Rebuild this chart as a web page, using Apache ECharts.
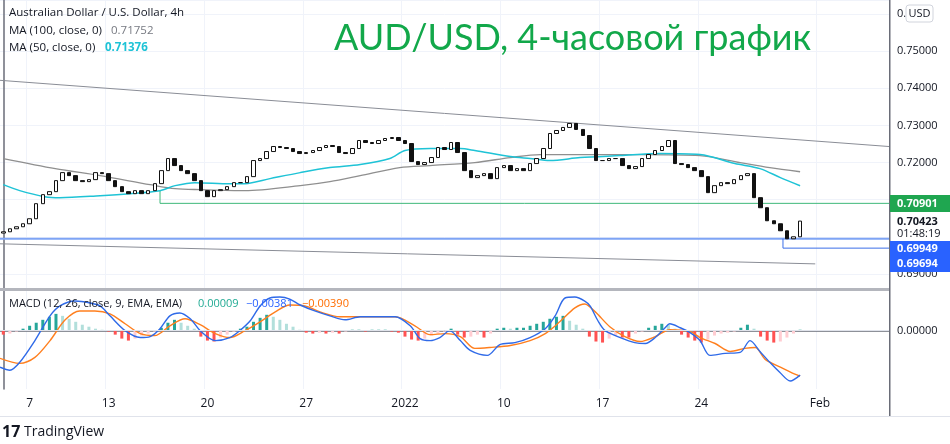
<!DOCTYPE html>
<html>
<head>
<meta charset="utf-8">
<script src="https://cdn.jsdelivr.net/npm/echarts@6/dist/echarts.min.js"></script>
<style>
  html, body { margin: 0; padding: 0; background: #fff; }
  #chart { width: 950px; height: 444px; }
</style>
</head>
<body>
<div id="chart"></div>
<script>
// 8h candles (closes), first open below
const firstOpen = 0.7010
const closes = [
  0.70135, 0.70216, 0.70270, 0.70351, 0.70486, 0.70892, 0.71135, 0.71216, 0.71513, 0.71729,
  0.71648, 0.71513, 0.71486, 0.71540, 0.71729, 0.71702, 0.71513, 0.71351, 0.71216, 0.71162,
  0.71243, 0.71162, 0.71243, 0.71432, 0.71783, 0.72108, 0.71919, 0.71783, 0.71702, 0.71513,
  0.71243, 0.71081, 0.71243, 0.71270, 0.71351, 0.71459, 0.71459, 0.71621, 0.72054, 0.72108,
  0.72297, 0.72432, 0.72405, 0.72378, 0.72297, 0.72243, 0.72270, 0.72324, 0.72405, 0.72459,
  0.72432, 0.72270, 0.72243, 0.72378, 0.72594, 0.72540, 0.72513, 0.72594, 0.72648, 0.72675,
  0.72594, 0.72513, 0.72027, 0.71946, 0.72000, 0.72135, 0.72405, 0.72351, 0.72540, 0.72270,
  0.71783, 0.71594, 0.71648, 0.71702, 0.71567, 0.71864, 0.71919, 0.71783, 0.71837, 0.71783,
  0.71973, 0.72108, 0.72378, 0.72783, 0.72864, 0.72946, 0.73054, 0.72892, 0.72729, 0.72378,
  0.72054, 0.72054, 0.72108, 0.72108, 0.71919, 0.71837, 0.71892, 0.72108, 0.72216, 0.72324,
  0.72432, 0.72594, 0.71973, 0.71946, 0.71864, 0.71783, 0.71621, 0.71189, 0.71378, 0.71459,
  0.71432, 0.71540, 0.71648, 0.71702, 0.71054, 0.70783, 0.70432, 0.70351, 0.70162, 0.69946,
  0.70000, 0.70423
]
const categoryCount = 135

// [bar index, value]
const ma50 = [
  [0, 0.71405], [2.5, 0.71243], [6.3, 0.71081], [8.6, 0.71054], [14.7, 0.71108], [19.2, 0.71162],
  [23.8, 0.71243], [26.1, 0.71378], [29.1, 0.71459], [34.4, 0.71432], [36.7, 0.71432], [40.5, 0.71567],
  [45.1, 0.71729], [49.6, 0.71864], [54.2, 0.71946], [58.7, 0.72108], [61.0, 0.72324], [64.8, 0.72378],
  [69.4, 0.72378], [71.6, 0.72324], [77.0, 0.72162], [80.0, 0.72108], [83.0, 0.72054], [87.6, 0.72135],
  [93.7, 0.72189], [99.7, 0.72243], [105.8, 0.72216], [111.1, 0.71973], [114.9, 0.71837], [118.0, 0.71594],
  [121, 0.71376]
]
const ma100 = [
  [0, 0.72108], [7.9, 0.71837], [14.7, 0.71648], [22.3, 0.71405], [26.1, 0.71297], [29.9, 0.71270],
  [36.7, 0.71243], [45.1, 0.71378], [49.6, 0.71486], [54.2, 0.71648], [60.2, 0.71864], [64.8, 0.71919],
  [71.6, 0.72000], [77.0, 0.72135], [81.5, 0.72216], [90.6, 0.72216], [96.7, 0.72216], [105.8, 0.72189],
  [111.9, 0.72000], [116.4, 0.71864], [121, 0.71752]
]
const trendUpper = [[-0.5, 0.74216], [134.5, 0.72432]]
const trendLower = [[-0.5, 0.69811], [123.3, 0.69270]]
const greenLevel = [[23.8, 0.71243], [23.8, 0.70901], [134.5, 0.70901]]
const blueLevel1 = [[-0.5, 0.69949], [134.5, 0.69949]]
const blueLevel2 = [[118.4, 0.69949], [118.4, 0.69694], [134.5, 0.69694]]

// MACD pane (x in bar index)
const macdLine = [
  [-0.5, -0.00313], [1.0, -0.00339], [2.5, -0.00271], [4.8, -0.00085], [7.1, 0.00127], [8.6, 0.00212],
  [10.9, 0.00254], [13.2, 0.00237], [14.7, 0.00212], [16.2, 0.00127], [18.5, 0], [20.8, -0.00059],
  [22.3, -0.00051], [23.8, 0.00017], [25.3, 0.00127], [26.8, 0.00152], [28.4, 0.00102], [29.9, 0],
  [32.2, -0.00085], [34.4, -0.00059], [35.9, 0], [37.5, 0.00085], [39.0, 0.00212], [40.5, 0.00280],
  [42.0, 0.00288], [43.5, 0.00271], [45.1, 0.00220], [47.3, 0.00169], [49.6, 0.00127], [51.9, 0.00093],
  [54.2, 0.00119], [57.2, 0.00119], [59.5, 0.00119], [61.8, 0.00042], [63.3, -0.00068], [64.8, -0.00085],
  [66.3, -0.00059], [67.8, 0], [69.4, -0.00085], [70.9, -0.00169], [73.5, -0.00212], [75.4, -0.00119],
  [77.7, -0.00102], [80.0, -0.00059], [82.3, 0.00017], [83.8, 0.00127], [85.3, 0.00280], [86.8, 0.00288],
  [88.3, 0.00254], [89.1, 0.00212], [90.3, 0.00085], [91.4, 0], [93.7, -0.00059], [95.9, -0.00102],
  [97.5, -0.00110], [99.0, -0.00059], [100.5, 0.00025], [101.2, 0.00059], [102.8, 0.00025], [104.3, -0.00017],
  [105.8, -0.00085], [107.3, -0.00212], [109.6, -0.00195], [111.9, -0.00186], [113.4, -0.00085], [114.9, -0.00178],
  [116.4, -0.00271], [117.9, -0.00356], [119.5, -0.00432], [121, -0.00381]
]
const signalLine = [
  [-0.5, -0.00237], [2.5, -0.00280], [4.8, -0.00229], [7.1, -0.00085], [9.4, 0.00093], [11.6, 0.00169],
  [13.9, 0.00169], [16.2, 0.00144], [18.5, 0.00059], [20.8, -0.00025], [23.0, -0.00042], [25.3, 0.00042],
  [27.6, 0.00102], [29.9, 0.00051], [32.2, -0.00025], [34.4, -0.00059], [36.7, 0], [39.0, 0.00076],
  [41.3, 0.00161], [43.5, 0.00220], [45.8, 0.00212], [48.1, 0.00161], [51.1, 0.00119], [54.2, 0.00119],
  [59.5, 0.00119], [62.5, 0.00042], [64.8, -0.00034], [67.1, -0.00025], [69.4, -0.00051], [71.6, -0.00152],
  [73.9, -0.00144], [77.0, -0.00127], [80.0, -0.00085], [82.3, -0.00025], [84.5, 0.00076], [86.8, 0.00195],
  [88.3, 0.00229], [89.9, 0.00161], [92.1, 0.00034], [94.4, -0.00051], [96.7, -0.00093], [99.0, -0.00051],
  [101.2, 0.00008], [104.3, -0.00008], [105.8, -0.00059], [108.1, -0.00110], [110.4, -0.00178], [112.6, -0.00152],
  [114.2, -0.00144], [115.7, -0.00246], [118.0, -0.00313], [120.2, -0.00373], [121, -0.00390]
]
const histogram = [
  -0.00034, -0.00025, -0.00008, 0.00017, 0.00042, 0.00068, 0.00093, 0.00119, 0.00144, 0.00127,
  0.00102, 0.00076, 0.00051, 0.00034, 0.00017, 0.00008, -0.00008, -0.00034, -0.00068, -0.00085,
  -0.00068, -0.00042, -0.00025, -0.00008, 0.00025, 0.00068, 0.00093, 0.00068, 0.00042, 0.00017,
  -0.00051, -0.00085, -0.00093, -0.00059, -0.00034, -0.00008, 0.00017, 0.00034, 0.00076, 0.00110,
  0.00136, 0.00119, 0.00093, 0.00059, 0.00034, 0.00008, -0.00017, -0.00025, -0.00017, -0.00025,
  -0.00017, -0.00025, -0.00008, 0.00008, 0.00008, -0.00008, 0.00008, 0.00008, 0.00008, -0.00008,
  -0.00017, -0.00051, -0.00076, -0.00085, -0.00068, -0.00042, -0.00025, -0.00008, 0.00017, -0.00034,
  -0.00059, -0.00051, -0.00034, -0.00059, -0.00025, 0.00017, 0.00025, 0.00017, 0.00025, 0.00025,
  0.00042, 0.00059, 0.00076, 0.00102, 0.00119, 0.00127, 0.00085, 0.00051, 0.00017, -0.00051,
  -0.00093, -0.00102, -0.00068, -0.00042, -0.00059, -0.00059, -0.00025, -0.00008, 0.00025, 0.00042,
  0.00059, 0.00051, 0.00017, -0.00034, -0.00059, -0.00085, -0.00102, -0.00076, -0.00042, -0.00025,
  -0.00017, -0.00008, 0.00025, 0.00051, 0.00017, -0.00051, -0.00085, -0.00102, -0.00093, -0.00059,
  -0.00025, 0.00008
]

// date tick labels on the bar axis
const tickIndex = [4, 16, 31, 46, 61, 76, 91, 106, 124]
const tickText = ['7', '13', '20', '27', '2022', '10', '17', '24', 'Feb']

const font = 'Open Sans, DejaVu Sans, sans-serif'
const cats = []
for (let i = 0; i < categoryCount; i++) cats.push(String(i))
const tickMap = {}
tickIndex.forEach((t, k) => { tickMap[t] = tickText[k] })

const candles = closes.map((c, i) => {
  const o = i === 0 ? firstOpen : closes[i - 1]
  return [o, c, Math.min(o, c), Math.max(o, c)]
})

const histData = histogram.map((v, i) => {
  const prev = i === 0 ? 0 : histogram[i - 1]
  let color
  if (v >= 0) color = v >= prev ? '#26a69a' : '#b2dfdb'
  else color = v <= prev ? '#ff5252' : '#ffcdd2'
  return { value: v, itemStyle: { color: color } }
})

function lineSeries(data, color, width, xi, yi) {
  return {
    type: 'line', data: data, xAxisIndex: xi, yAxisIndex: yi, symbol: 'none',
    smooth: 0.3, lineStyle: { color: color, width: width }, silent: true, z: 3
  }
}
function straight(data, color, width) {
  return {
    type: 'line', data: data, xAxisIndex: 1, yAxisIndex: 0, symbol: 'none',
    lineStyle: { color: color, width: width }, silent: true, z: 2
  }
}

const chart = echarts.init(document.getElementById('chart'))
const gridLine = { show: true, lineStyle: { color: '#f0f3fa' } }
const Z = 100
chart.setOption({
  animation: false,
  grid: [
    { left: 0, right: 61, top: 0, height: 288 },
    { left: 0, right: 61, top: 291, height: 98 }
  ],
  xAxis: [
    { type: 'category', data: cats, gridIndex: 0, boundaryGap: true,
      axisLine: { show: false }, axisTick: { show: false }, axisLabel: { show: false },
      splitLine: { show: true, interval: (i) => tickMap[i] !== undefined, lineStyle: { color: '#f0f3fa' } } },
    { type: 'value', gridIndex: 0, min: -0.5, max: categoryCount - 0.5, show: false },
    { type: 'category', data: cats, gridIndex: 1, boundaryGap: true,
      axisLine: { show: true, lineStyle: { color: '#6a6d78', width: 1.5 } }, axisTick: { show: false },
      axisLabel: { interval: (i) => tickMap[i] !== undefined, formatter: (v) => tickMap[v] || '',
        color: '#131722', fontSize: 12, fontFamily: font, margin: 9 },
      splitLine: { show: true, interval: (i) => tickMap[i] !== undefined, lineStyle: { color: '#f0f3fa' } } },
    { type: 'value', gridIndex: 1, min: -0.5, max: categoryCount - 0.5, show: false }
  ],
  yAxis: [
    { type: 'value', gridIndex: 0, position: 'right', min: 0.6862, max: 0.7638, splitNumber: 7,
      axisLine: { show: true, lineStyle: { color: '#6a6d78', width: 1.5 } }, axisTick: { show: false },
      axisLabel: { formatter: (v) => v.toFixed(5), color: '#131722', fontSize: 11, fontFamily: font, margin: 8,
        showMinLabel: false, showMaxLabel: false },
      splitLine: gridLine },
    { type: 'value', gridIndex: 1, position: 'right', min: -0.005, max: 0.0034,
      axisLine: { show: true, lineStyle: { color: '#6a6d78', width: 1.5 } }, axisTick: { show: false },
      axisLabel: { formatter: (v) => Math.abs(v) < 1e-9 ? '0.00000' : '', color: '#131722', fontSize: 11, fontFamily: font, margin: 8,
        showMinLabel: false, showMaxLabel: false },
      splitLine: { show: false } }
  ],
  series: [
    straight(trendUpper, '#8a8d96', 1),
    straight(trendLower, '#8a8d96', 1),
    straight(greenLevel, '#3fb97a', 1),
    straight(blueLevel1, '#7ea4f5', 2),
    straight(blueLevel2, '#3b6fe8', 1),
    lineSeries(ma100, '#8f8f8f', 1.3, 1, 0),
    lineSeries(ma50, '#1ec3d6', 1.5, 1, 0),
    {
      type: 'candlestick', data: candles, xAxisIndex: 0, yAxisIndex: 0, barWidth: 4, z: 4,
      itemStyle: { color: '#ffffff', color0: '#111111', borderColor: '#111111', borderColor0: '#111111', borderWidth: 1 }
    },
    {
      type: 'bar', data: histData, xAxisIndex: 2, yAxisIndex: 1, barWidth: 3, z: 2,
      markLine: { silent: true, symbol: 'none', label: { show: false },
        lineStyle: { color: '#e0e3eb', type: 'solid', width: 1 }, data: [{ yAxis: 0 }] }
    },
    lineSeries(signalLine, '#ff7f1e', 1.4, 3, 1),
    lineSeries(macdLine, '#2f6ae8', 1.4, 3, 1)
  ],
  graphic: [
    { type: 'text', z: Z, left: 9, top: 7, style: { text: 'Australian Dollar / U.S. Dollar, 4h', fill: '#131722', font: '11.5px ' + font } },
    { type: 'text', z: Z, left: 9, top: 25, style: { text: 'MA (100, close, 0)', fill: '#131722', font: '11.5px ' + font } },
    { type: 'text', z: Z, left: 111, top: 25, style: { text: '0.71752', fill: '#777a82', font: '11.5px ' + font } },
    { type: 'text', z: Z, left: 9, top: 42, style: { text: 'MA (50, close, 0)', fill: '#131722', font: '11.5px ' + font } },
    { type: 'text', z: Z, left: 105, top: 42, style: { text: '0.71376', fill: '#1ec3d6', font: 'bold 11.5px ' + font } },
    { type: 'text', z: Z, left: 334, top: 20, style: { text: 'AUD/USD, 4-часовой график', fill: '#12a84a', font: '36px Lato, ' + font } },
    { type: 'rect', z: Z, shape: { x: 0, y: 288, width: 889, height: 3 }, style: { fill: '#b4b6bd' } },
    { type: 'rect', z: Z, shape: { x: 889, y: 0, width: 1.5, height: 416 }, style: { fill: '#6a6d78' } },
    { type: 'rect', z: Z, shape: { x: 0, y: 416, width: 950, height: 1 }, style: { fill: '#e0e3eb' } },
    { type: 'rect', z: Z, shape: { x: 926, y: 4, width: 24, height: 20 }, style: { fill: '#fff' } },
    { type: 'rect', z: Z, shape: { x: 906, y: 5, width: 27, height: 17, r: 3 }, style: { fill: '#fff', stroke: '#d1d4dc' } },
    { type: 'text', z: Z, x: 919.5, y: 14, style: { text: 'USD', fill: '#131722', font: '11px ' + font, align: 'center', verticalAlign: 'middle' } },
    { type: 'rect', z: Z, shape: { x: 890, y: 195, width: 60, height: 17 }, style: { fill: '#1fa650' } },
    { type: 'text', z: Z, x: 897, y: 204, style: { text: '0.70901', fill: '#fff', font: 'bold 11px ' + font, verticalAlign: 'middle' } },
    { type: 'rect', z: Z, shape: { x: 891, y: 213, width: 59, height: 28 }, style: { fill: '#fff' } },
    { type: 'text', z: Z, x: 897, y: 222, style: { text: '0.70423', fill: '#131722', font: 'bold 11px ' + font, verticalAlign: 'middle' } },
    { type: 'text', z: Z, x: 897, y: 234, style: { text: '01:48:19', fill: '#131722', font: '11px ' + font, verticalAlign: 'middle' } },
    { type: 'rect', z: Z, shape: { x: 890, y: 241, width: 60, height: 16 }, style: { fill: '#2962ff' } },
    { type: 'text', z: Z, x: 897, y: 249, style: { text: '0.69949', fill: '#fff', font: 'bold 11px ' + font, verticalAlign: 'middle' } },
    { type: 'rect', z: Z, shape: { x: 890, y: 257, width: 60, height: 15 }, style: { fill: '#2962ff' } },
    { type: 'text', z: Z, x: 897, y: 264, style: { text: '0.69694', fill: '#fff', font: 'bold 11px ' + font, verticalAlign: 'middle' } },
    { type: 'text', z: Z, left: 9, top: 298, style: { text: 'MACD (12, 26, close, 9, EMA, EMA)', fill: '#131722', font: '11px ' + font } },
    { type: 'text', z: Z, left: 198, top: 298, style: { text: '0.00009', fill: '#22ab94', font: '11px ' + font } },
    { type: 'text', z: Z, left: 246, top: 298, style: { text: '−0.00381', fill: '#2962ff', font: '11px ' + font } },
    { type: 'text', z: Z, left: 302, top: 298, style: { text: '−0.00390', fill: '#ff6d00', font: '11px ' + font } },
    { type: 'text', z: Z, left: 2, top: 424, style: { text: '17', fill: '#131722', font: 'bold 16px ' + font } },
    { type: 'text', z: Z, left: 24, top: 425, style: { text: 'TradingView', fill: '#131722', font: '14px ' + font } }
  ]
})
</script>
</body>
</html>
